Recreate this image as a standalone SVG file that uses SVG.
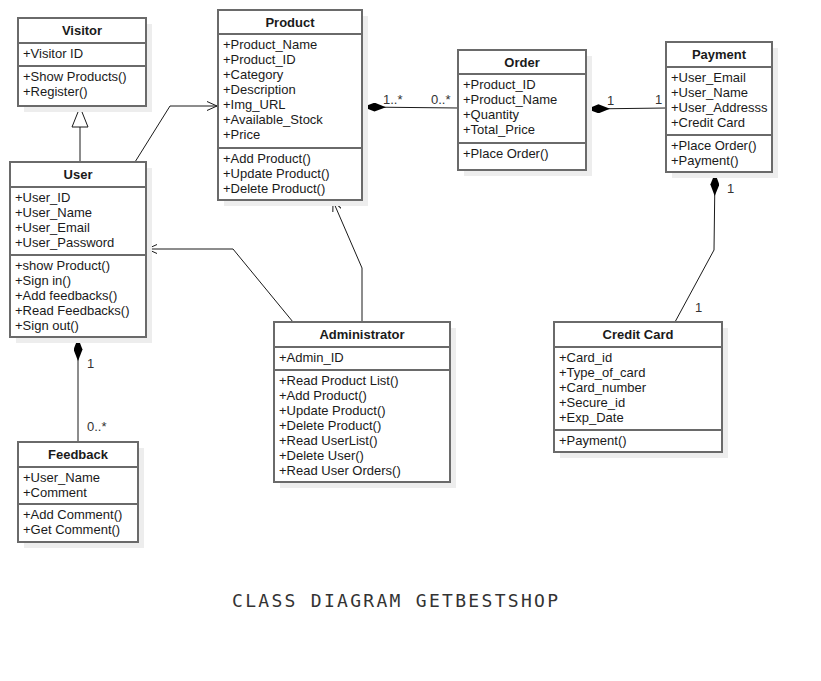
<svg xmlns="http://www.w3.org/2000/svg" width="821" height="681" viewBox="0 0 821 681">
<style>
.box{fill:#fff;stroke:#6a6a6a;stroke-width:2}
.sh{fill:#ededed}
.div{stroke:#6a6a6a;stroke-width:2}
.t{font-family:"Liberation Sans",Arial,sans-serif;font-size:13px;fill:#1a1a1a}
.h{font-family:"Liberation Sans",Arial,sans-serif;font-size:13px;font-weight:bold;fill:#1a1a1a;text-anchor:middle}
.c{fill:none;stroke:#1a1a1a;stroke-width:1}
.lbl{font-family:"Liberation Sans",Arial,sans-serif;font-size:13px;fill:#333}
.title{font-family:"DejaVu Sans Mono","Liberation Mono",monospace;font-size:18px;fill:#333}
</style>
<defs>
<marker id="dia" viewBox="0 0 23 9" refX="0" refY="4.5" markerWidth="23" markerHeight="9" markerUnits="userSpaceOnUse" orient="auto">
<polygon points="0,4.5 11.5,0 23,4.5 11.5,9" fill="#000"/>
</marker>
<marker id="arr" viewBox="0 0 10 10" refX="10" refY="5" markerWidth="10" markerHeight="10" markerUnits="userSpaceOnUse" orient="auto">
<path d="M0,0.5 L10,5 L0,9.5" fill="none" stroke="#1a1a1a" stroke-width="1"/>
</marker>
<marker id="tri" viewBox="0 0 22 18" refX="21" refY="9" markerWidth="22" markerHeight="18" markerUnits="userSpaceOnUse" orient="auto">
<polygon points="1,1 21,9 1,17" fill="#fff" stroke="#1a1a1a" stroke-width="1"/>
</marker>
</defs>
<rect width="821" height="681" fill="#fff"/>

<g id="connectors">
<path class="c" d="M135,162 L170,106 L217,106" marker-end="url(#arr)"/>
<path class="c" d="M293,322 L233,249 L147,249" marker-end="url(#arr)"/>
<path class="c" d="M362,322 L362,268 L333,201" marker-end="url(#arr)"/>
<path class="c" d="M80,162 L80,107" marker-end="url(#tri)"/>
<path class="c" d="M363,107 L458,108" stroke="#777" marker-start="url(#dia)"/>
<path class="c" d="M587,109 L666,108" marker-start="url(#dia)"/>
<path class="c" d="M715,173 L714,250 L675,322" marker-start="url(#dia)"/>
<path class="c" d="M78,338 L78,442" marker-start="url(#dia)"/>
<text class="lbl" x="383" y="104">1..*</text>
<text class="lbl" x="431" y="104">0..*</text>
<text class="lbl" x="607" y="105">1</text>
<text class="lbl" x="655" y="104">1</text>
<text class="lbl" x="727" y="193">1</text>
<text class="lbl" x="695" y="312">1</text>
<text class="lbl" x="87" y="368">1</text>
<text class="lbl" x="87" y="431">0..*</text>
</g>

<g id="visitor">
<rect class="sh" x="24" y="24" width="128" height="88"/>
<rect class="box" x="18" y="18" width="128" height="88"/>
<line class="div" x1="18" y1="43" x2="146" y2="43"/>
<line class="div" x1="18" y1="66" x2="146" y2="66"/>
<text class="h" x="82" y="35">Visitor</text>
<text class="t" x="23" y="58">+Visitor ID</text>
<text class="t" x="23" y="81">+Show Products()</text>
<text class="t" x="23" y="96">+Register()</text>
</g>

<g id="user">
<rect class="sh" x="16" y="168" width="136" height="175"/>
<rect class="box" x="10" y="162" width="136" height="175"/>
<line class="div" x1="10" y1="187" x2="146" y2="187"/>
<line class="div" x1="10" y1="255" x2="146" y2="255"/>
<text class="h" x="78" y="179">User</text>
<text class="t" x="15" y="202">+User_ID</text>
<text class="t" x="15" y="217">+User_Name</text>
<text class="t" x="15" y="232">+User_Email</text>
<text class="t" x="15" y="247">+User_Password</text>
<text class="t" x="15" y="270">+show Product()</text>
<text class="t" x="15" y="285">+Sign in()</text>
<text class="t" x="15" y="300">+Add feedbacks()</text>
<text class="t" x="15" y="315">+Read Feedbacks()</text>
<text class="t" x="15" y="330">+Sign out()</text>
</g>

<g id="product">
<rect class="sh" x="224" y="16" width="144" height="190"/>
<rect class="box" x="218" y="10" width="144" height="190"/>
<line class="div" x1="218" y1="34" x2="362" y2="34"/>
<line class="div" x1="218" y1="148" x2="362" y2="148"/>
<text class="h" x="290" y="27">Product</text>
<text class="t" x="223" y="49">+Product_Name</text>
<text class="t" x="223" y="64">+Product_ID</text>
<text class="t" x="223" y="79">+Category</text>
<text class="t" x="223" y="94">+Description</text>
<text class="t" x="223" y="109">+Img_URL</text>
<text class="t" x="223" y="124">+Available_Stock</text>
<text class="t" x="223" y="139">+Price</text>
<text class="t" x="223" y="163">+Add Product()</text>
<text class="t" x="223" y="178">+Update Product()</text>
<text class="t" x="223" y="193">+Delete Product()</text>
</g>

<g id="order">
<rect class="sh" x="464" y="56" width="128" height="120"/>
<rect class="box" x="458" y="50" width="128" height="120"/>
<line class="div" x1="458" y1="74" x2="586" y2="74"/>
<line class="div" x1="458" y1="143" x2="586" y2="143"/>
<text class="h" x="522" y="67">Order</text>
<text class="t" x="463" y="89">+Product_ID</text>
<text class="t" x="463" y="104">+Product_Name</text>
<text class="t" x="463" y="119">+Quantity</text>
<text class="t" x="463" y="134">+Total_Price</text>
<text class="t" x="463" y="158">+Place Order()</text>
</g>

<g id="payment">
<rect class="sh" x="672" y="48" width="106" height="130"/>
<rect class="box" x="666" y="42" width="106" height="130"/>
<line class="div" x1="666" y1="67" x2="772" y2="67"/>
<line class="div" x1="666" y1="135" x2="772" y2="135"/>
<text class="h" x="719" y="59">Payment</text>
<text class="t" x="671" y="82">+User_Email</text>
<text class="t" x="671" y="97">+User_Name</text>
<text class="t" x="671" y="112">+User_Addresss</text>
<text class="t" x="671" y="127">+Credit Card</text>
<text class="t" x="671" y="150">+Place Order()</text>
<text class="t" x="671" y="165">+Payment()</text>
</g>

<g id="creditcard">
<rect class="sh" x="560" y="328" width="168" height="130"/>
<rect class="box" x="554" y="322" width="168" height="130"/>
<line class="div" x1="554" y1="347" x2="722" y2="347"/>
<line class="div" x1="554" y1="430" x2="722" y2="430"/>
<text class="h" x="638" y="339">Credit Card</text>
<text class="t" x="559" y="362">+Card_id</text>
<text class="t" x="559" y="377">+Type_of_card</text>
<text class="t" x="559" y="392">+Card_number</text>
<text class="t" x="559" y="407">+Secure_id</text>
<text class="t" x="559" y="422">+Exp_Date</text>
<text class="t" x="559" y="445">+Payment()</text>
</g>

<g id="administrator">
<rect class="sh" x="280" y="328" width="176" height="160"/>
<rect class="box" x="274" y="322" width="176" height="160"/>
<line class="div" x1="274" y1="347" x2="450" y2="347"/>
<line class="div" x1="274" y1="370" x2="450" y2="370"/>
<text class="h" x="362" y="339">Administrator</text>
<text class="t" x="279" y="362">+Admin_ID</text>
<text class="t" x="279" y="385">+Read Product List()</text>
<text class="t" x="279" y="400">+Add Product()</text>
<text class="t" x="279" y="415">+Update Product()</text>
<text class="t" x="279" y="430">+Delete Product()</text>
<text class="t" x="279" y="445">+Read UserList()</text>
<text class="t" x="279" y="460">+Delete User()</text>
<text class="t" x="279" y="475">+Read User Orders()</text>
</g>

<g id="feedback">
<rect class="sh" x="24" y="448" width="120" height="100"/>
<rect class="box" x="18" y="442" width="120" height="100"/>
<line class="div" x1="18" y1="467" x2="138" y2="467"/>
<line class="div" x1="18" y1="504" x2="138" y2="504"/>
<text class="h" x="78" y="459">Feedback</text>
<text class="t" x="23" y="482">+User_Name</text>
<text class="t" x="23" y="497">+Comment</text>
<text class="t" x="23" y="519">+Add Comment()</text>
<text class="t" x="23" y="534">+Get Comment()</text>
</g>

<text class="title" x="232" y="607" textLength="326" lengthAdjust="spacing">CLASS DIAGRAM GETBESTSHOP</text>
</svg>
